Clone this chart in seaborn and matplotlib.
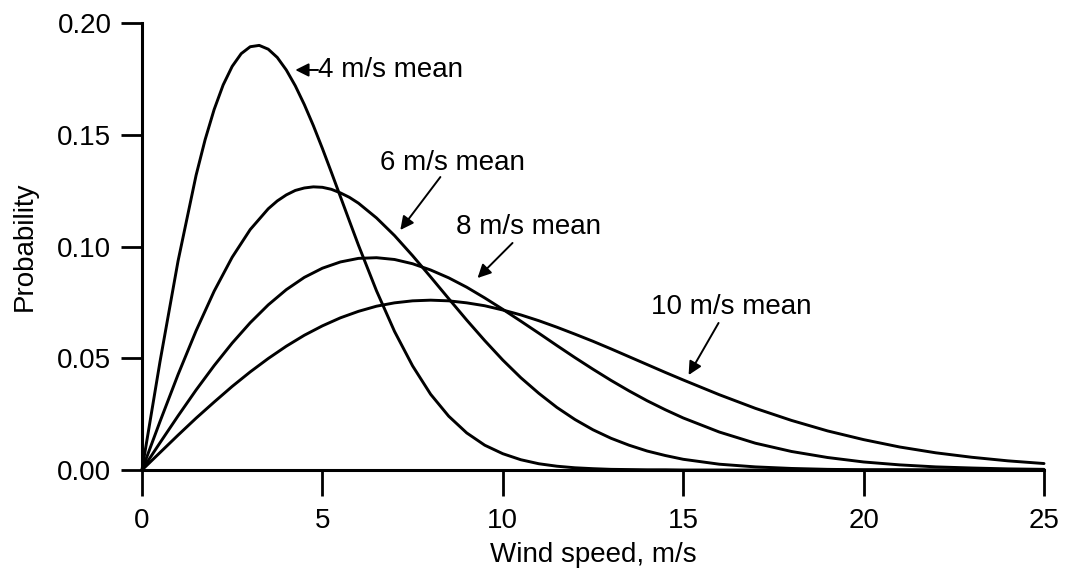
import matplotlib
matplotlib.use("Agg")
import matplotlib.pyplot as plt
import seaborn as sns
import pandas as pd

# Wind speed values (m/s) at which each curve was read
wind_4 = [0, 0.5, 1, 1.5, 1.75, 2, 2.25, 2.5, 2.75, 3, 3.25, 3.5, 3.75, 4,
          4.25, 4.5, 4.75, 5, 5.25, 5.5, 5.75, 6, 6.5, 7, 7.5, 8, 8.5, 9, 9.5,
          10, 10.5, 11, 11.5, 12, 12.5, 13, 13.5, 14, 14.5, 15, 16, 17, 18,
          19, 20, 21, 22, 23, 24, 25]
prob_4 = [0, .0485, .0935, .1319, .1478, .1613, .1723, .1806, .1863, .1894,
          .1900, .1883, .1846, .1790, .1719, .1635, .1541, .1439, .1332,
          .1223, .1114, .1006, .0802, .0620, .0466, .0339, .0241, .0166,
          .0111, .0073, .0046, .0028, .0017, .0010, .0006, .0003, .0002,
          .0001, .0001, .0000, 0, 0, 0, 0, 0, 0, 0, 0, 0, 0]

wind_6 = [0, 0.5, 1, 1.5, 2, 2.5, 3, 3.5, 3.75, 4, 4.25, 4.5, 4.75, 5, 5.25,
          5.5, 5.75, 6, 6.5, 7, 7.5, 8, 8.5, 9, 9.5, 10, 10.5, 11, 11.5, 12,
          12.5, 13, 13.5, 14, 14.5, 15, 16, 17, 18, 19, 20, 21, 22, 23, 24, 25]
prob_6 = [0, .0217, .0427, .0623, .0800, .0952, .1076, .1169, .1204, .1231,
          .1251, .1262, .1267, .1265, .1256, .1240, .1220, .1194, .1128,
          .1049, .0959, .0864, .0767, .0671, .0579, .0492, .0413, .0343,
          .0280, .0226, .0180, .0142, .0111, .0085, .0065, .0048, .0026,
          .0014, .0007, .0003, .0001, .0001, 0, 0, 0, 0]

wind_8 = [0, 0.5, 1, 1.5, 2, 2.5, 3, 3.5, 4, 4.5, 5, 5.5, 6, 6.5, 7, 7.5,
          8, 8.5, 9, 9.5, 10, 10.5, 11, 11.5, 12, 12.5, 13, 13.5, 14, 14.5,
          15, 16, 17, 18, 19, 20, 21, 22, 23, 24, 25]
prob_8 = [0, .0122, .0242, .0358, .0467, .0568, .0659, .0739, .0807, .0862,
          .0903, .0931, .0947, .0950, .0942, .0923, .0895, .0860, .0818, .0770,
          .0719, .0666, .0612, .0557, .0503, .0451, .0401, .0354, .0310, .0270,
          .0233, .0170, .0120, .0083, .0056, .0036, .0023, .0014, .0009, .0005,
          .0003]

wind_10 = [0, 0.5, 1, 1.5, 2, 2.5, 3, 3.5, 4, 4.5, 5, 5.5, 6, 6.5, 7, 7.5,
           8, 8.5, 9, 9.5, 10, 10.5, 11, 11.5, 12, 12.5, 13, 13.5, 14, 14.5,
           15, 16, 17, 18, 19, 20, 21, 22, 23, 24, 25]
prob_10 = [0, .0078, .0156, .0232, .0304, .0374, .0439, .0499, .0554, .0603,
           .0645, .0681, .0710, .0733, .0748, .0757, .0760, .0757, .0748, .0735,
           .0716, .0694, .0668, .0639, .0608, .0576, .0542, .0507, .0472, .0437,
           .0403, .0337, .0276, .0222, .0175, .0136, .0103, .0077, .0057, .0041,
           .0029]

series_names = ["4 m/s mean", "6 m/s mean", "8 m/s mean", "10 m/s mean"]
series_x = [wind_4, wind_6, wind_8, wind_10]
series_y = [prob_4, prob_6, prob_8, prob_10]

x_ticks = [0, 5, 10, 15, 20, 25]
y_ticks = [0.00, 0.05, 0.10, 0.15, 0.20]
y_tick_labels = ["0.00", "0.05", "0.10", "0.15", "0.20"]

# annotation: (label, text anchor, arrow tail, arrow tip)
annotations = [
    ("4 m/s mean", (4.88, 0.179), (4.88, 0.179), (4.25, 0.179)),
    ("6 m/s mean", (8.60, 0.1374), (8.27, 0.1311), (7.16, 0.1074)),
    ("8 m/s mean", (10.71, 0.1087), (10.27, 0.1016), (9.30, 0.0859)),
    ("10 m/s mean", (16.34, 0.0729), (15.98, 0.0658), (15.15, 0.0425)),
]

rows = []
for name, xs, ys in zip(series_names, series_x, series_y):
    for x, y in zip(xs, ys):
        rows.append({"Wind speed": x, "Probability": y, "Series": name})
df = pd.DataFrame(rows)

sns.set_theme(style="ticks")
plt.rcParams["font.family"] = ["Liberation Sans", "DejaVu Sans"]

FS = 20
fig = plt.figure(figsize=(10.65, 5.76), dpi=100)
ax = fig.add_axes([0.1333, 0.184, 0.847, 0.776])

sns.lineplot(data=df, x="Wind speed", y="Probability", hue="Series",
             palette=["black"] * 4, linewidth=2.1, legend=False, ax=ax,
             clip_on=False)

ax.set_xlim(0, 25)
ax.set_ylim(0, 0.20)
ax.set_xticks(x_ticks)
ax.set_yticks(y_ticks)
ax.set_yticklabels(y_tick_labels)
ax.tick_params(axis="both", labelsize=FS, width=2.0, direction="out",
               color="black", labelcolor="black")
ax.tick_params(axis="x", length=19, pad=8)
ax.tick_params(axis="y", length=15, pad=7)
for s in ["top", "right"]:
    ax.spines[s].set_visible(False)
for s in ["left", "bottom"]:
    ax.spines[s].set_linewidth(2.2)
    ax.spines[s].set_color("black")

ax.set_xlabel("Wind speed, m/s", fontsize=FS, color="black", labelpad=6)
ax.set_ylabel("Probability", fontsize=FS, color="black", labelpad=14)

for label, tpos, tail, tip in annotations:
    ha = "left" if label.startswith("4") else "center"
    ax.text(tpos[0], tpos[1], label, fontsize=FS, ha=ha, va="center",
            color="black")
    ax.annotate("", xy=tip, xytext=tail,
                arrowprops=dict(arrowstyle="-|>", color="black", lw=1.4,
                                mutation_scale=20, shrinkA=0, shrinkB=0))

fig.savefig("out.png", dpi=100)
